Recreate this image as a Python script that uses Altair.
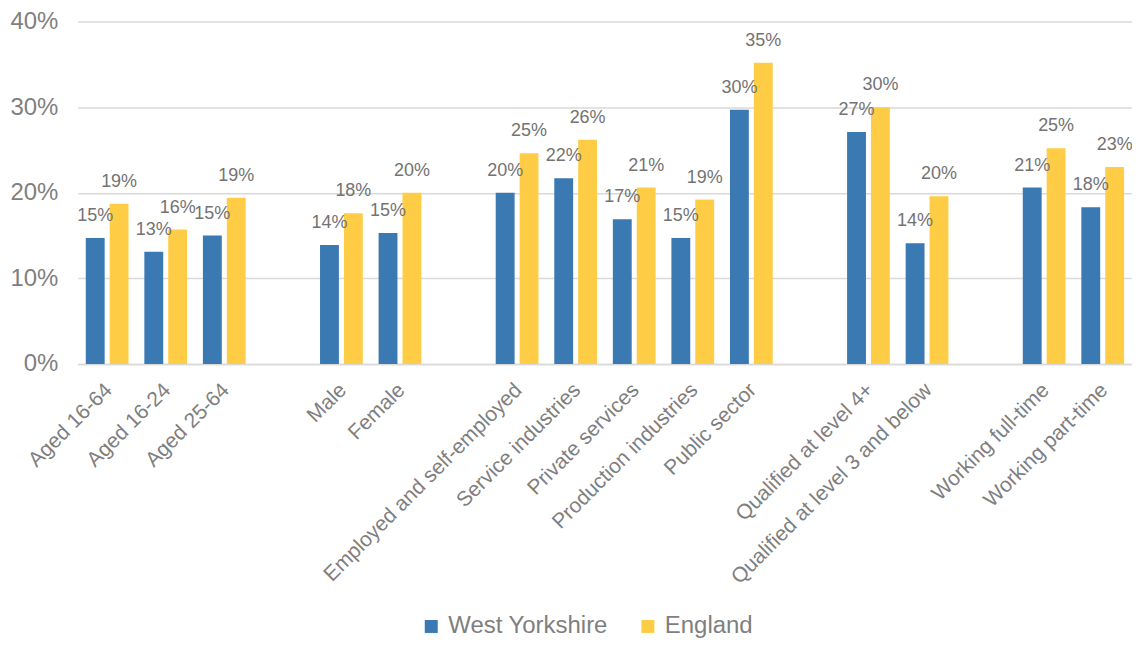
import altair as alt
import pandas as pd

categories = ["Aged 16-64", "Aged 16-24", "Aged 25-64", "Male", "Female",
              "Employed and self-employed", "Service industries", "Private services",
              "Production industries", "Public sector", "Qualified at level 4+",
              "Qualified at level 3 and below", "Working full-time", "Working part-time"]
west_yorkshire = [0.147, 0.131, 0.150, 0.139, 0.153, 0.200, 0.217, 0.169, 0.147, 0.297,
                  0.271, 0.141, 0.206, 0.183]
england = [0.187, 0.157, 0.194, 0.176, 0.200, 0.246, 0.262, 0.206, 0.192, 0.352,
           0.300, 0.196, 0.252, 0.230]
series = ["West Yorkshire", "England"]
colors = ["#3A79B1", "#FFCD45"]

# axis order with blank slots separating the groups
domain = ["Aged 16-64", "Aged 16-24", "Aged 25-64", " ",
          "Male", "Female", "  ",
          "Employed and self-employed", "Service industries", "Private services",
          "Production industries", "Public sector", "   ",
          "Qualified at level 4+", "Qualified at level 3 and below", "    ",
          "Working full-time", "Working part-time"]

rows = []
for c, w, e in zip(categories, west_yorkshire, england):
    rows.append({"category": c, "series": series[0], "value": w})
    rows.append({"category": c, "series": series[1], "value": e})
df = pd.DataFrame(rows)

x_enc = alt.X("category:N", sort=domain,
              scale=alt.Scale(domain=domain, paddingInner=0.27, paddingOuter=0.135),
              axis=alt.Axis(title=None, labelAngle=-45, labelFontSize=21, labelColor="#7f7f7f",
                            labelFont="Liberation Sans", ticks=False, domainColor="#d9d9d9",
                            domainWidth=1.5, labelPadding=15, labelOffset=-6, labelLimit=400))
xo_enc = alt.XOffset("series:N", sort=series,
                     scale=alt.Scale(domain=series, paddingInner=0.21, paddingOuter=0))
y_enc = alt.Y("value:Q", scale=alt.Scale(domain=[0, 0.4]),
              axis=alt.Axis(title=None, format=".0%", values=[0, 0.1, 0.2, 0.3, 0.4],
                            labelFontSize=24, labelColor="#7f7f7f", labelFont="Liberation Sans",
                            ticks=False, domain=False, gridColor="#d9d9d9", gridWidth=1.5,
                            labelPadding=20, minExtent=70, maxExtent=70))

bars = alt.Chart(df).mark_bar().encode(
    x=x_enc, xOffset=xo_enc, y=y_enc,
    color=alt.Color("series:N", sort=series,
                    scale=alt.Scale(domain=series, range=colors),
                    legend=alt.Legend(title=None, orient="none", legendX=342, legendY=594,
                                      direction="horizontal", symbolType="square",
                                      symbolSize=169, symbolStrokeWidth=0,
                                      labelFontSize=24, labelColor="#7f7f7f",
                                      labelFont="Liberation Sans", labelOffset=5,
                                      labelLimit=400, columnPadding=27)),
)

labels = alt.Chart(df).mark_text(
    baseline="middle", dy=-22, fontSize=18, color="#737373", font="Liberation Sans"
).encode(
    x=alt.X("category:N", sort=domain), xOffset=alt.XOffset("series:N", sort=series),
    y="value:Q", text=alt.Text("value:Q", format=".0%"),
)

chart = (bars + labels).properties(
    width=1056, height=343,
    autosize=alt.AutoSizeParams(type="none"),
    padding={"left": 70, "top": 13, "right": 0, "bottom": 276},
).configure_view(stroke=None)

chart.save("out.html", embed_options={"renderer": "svg", "actions": False})
